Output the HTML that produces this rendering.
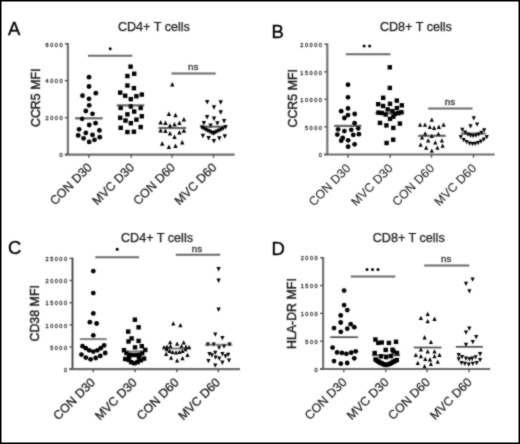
<!DOCTYPE html><html><head><meta charset="utf-8"><style>html,body{margin:0;padding:0;background:#fff;}svg{display:block;}text{font-family:"Liberation Sans", sans-serif;}</style></head><body>
<svg width="520" height="444" viewBox="0 0 520 444">
<defs><filter id="bl" x="-5%" y="-5%" width="110%" height="110%"><feConvolveMatrix order="3" kernelMatrix="1 2 1 2 12 2 1 2 1" edgeMode="duplicate"/></filter></defs>
<rect x="0" y="0" width="520" height="444" fill="#fff"/>
<g filter="url(#bl)">
<g><path d="M67.9 43.0V154.6" stroke="#737373" stroke-width="2.2" fill="none"/><path d="M64.9 154.6H234.6" stroke="#6c6c6c" stroke-width="2.2" fill="none"/><path d="M64.9 43.8H67.9" stroke="#555" stroke-width="1.4"/><text x="64.0" y="46.5" font-size="5.6" text-anchor="end" fill="#333" stroke="#333" stroke-width="0.28" letter-spacing="1.5">6000</text><path d="M64.9 80.7H67.9" stroke="#555" stroke-width="1.4"/><text x="64.0" y="83.4" font-size="5.6" text-anchor="end" fill="#333" stroke="#333" stroke-width="0.28" letter-spacing="1.5">4000</text><path d="M64.9 117.7H67.9" stroke="#555" stroke-width="1.4"/><text x="64.0" y="120.4" font-size="5.6" text-anchor="end" fill="#333" stroke="#333" stroke-width="0.28" letter-spacing="1.5">2000</text><path d="M64.9 154.6H67.9" stroke="#555" stroke-width="1.4"/><text x="64.0" y="157.3" font-size="5.6" text-anchor="end" fill="#333" stroke="#333" stroke-width="0.28" letter-spacing="1.5">0</text><path d="M88.8 154.6V157.8" stroke="#555" stroke-width="1.4"/><path d="M131.2 154.6V157.8" stroke="#555" stroke-width="1.4"/><path d="M172.1 154.6V157.8" stroke="#555" stroke-width="1.4"/><path d="M213.5 154.6V157.8" stroke="#555" stroke-width="1.4"/><text transform="translate(92.6 168.1) rotate(-45)" font-size="12.3" text-anchor="end" fill="#1c1c1c" stroke="#1c1c1c" stroke-width="0.22">CON D30</text><text transform="translate(135.0 168.1) rotate(-45)" font-size="12.3" text-anchor="end" fill="#1c1c1c" stroke="#1c1c1c" stroke-width="0.22">MVC D30</text><text transform="translate(175.9 168.1) rotate(-45)" font-size="12.3" text-anchor="end" fill="#1c1c1c" stroke="#1c1c1c" stroke-width="0.22">CON D60</text><text transform="translate(217.3 168.1) rotate(-45)" font-size="12.3" text-anchor="end" fill="#1c1c1c" stroke="#1c1c1c" stroke-width="0.22">MVC D60</text><text x="8.0" y="35.3" font-size="18.5" fill="#000" stroke="#000" stroke-width="0.35">A</text><text x="153.9" y="30.8" font-size="12.6" text-anchor="middle" fill="#1a1a1a" stroke="#1a1a1a" stroke-width="0.25">CD4+ T cells</text><text transform="translate(39.6 97.8) rotate(-90)" font-size="12.4" text-anchor="middle" fill="#1a1a1a" stroke="#1a1a1a" stroke-width="0.4">CCR5 MFI</text></g>
<g><path d="M327.3 43.4V154.5" stroke="#737373" stroke-width="2.2" fill="none"/><path d="M324.3 154.5H494.6" stroke="#6c6c6c" stroke-width="2.2" fill="none"/><path d="M324.3 44.2H327.3" stroke="#555" stroke-width="1.4"/><text x="323.4" y="46.9" font-size="5.6" text-anchor="end" fill="#333" stroke="#333" stroke-width="0.28" letter-spacing="1.5">20000</text><path d="M324.3 71.8H327.3" stroke="#555" stroke-width="1.4"/><text x="323.4" y="74.5" font-size="5.6" text-anchor="end" fill="#333" stroke="#333" stroke-width="0.28" letter-spacing="1.5">15000</text><path d="M324.3 99.3H327.3" stroke="#555" stroke-width="1.4"/><text x="323.4" y="102.0" font-size="5.6" text-anchor="end" fill="#333" stroke="#333" stroke-width="0.28" letter-spacing="1.5">10000</text><path d="M324.3 126.9H327.3" stroke="#555" stroke-width="1.4"/><text x="323.4" y="129.6" font-size="5.6" text-anchor="end" fill="#333" stroke="#333" stroke-width="0.28" letter-spacing="1.5">5000</text><path d="M324.3 154.5H327.3" stroke="#555" stroke-width="1.4"/><text x="323.4" y="157.2" font-size="5.6" text-anchor="end" fill="#333" stroke="#333" stroke-width="0.28" letter-spacing="1.5">0</text><path d="M347.9 154.5V157.7" stroke="#555" stroke-width="1.4"/><path d="M390.2 154.5V157.7" stroke="#555" stroke-width="1.4"/><path d="M431.5 154.5V157.7" stroke="#555" stroke-width="1.4"/><path d="M473.5 154.5V157.7" stroke="#555" stroke-width="1.4"/><text transform="translate(351.4 169.0) rotate(-45)" font-size="12.3" text-anchor="end" fill="#2a2a2a" stroke="#2a2a2a" stroke-width="0.1">CON D30</text><text transform="translate(393.7 169.0) rotate(-45)" font-size="12.3" text-anchor="end" fill="#2a2a2a" stroke="#2a2a2a" stroke-width="0.1">MVC D30</text><text transform="translate(435.0 169.0) rotate(-45)" font-size="12.3" text-anchor="end" fill="#2a2a2a" stroke="#2a2a2a" stroke-width="0.1">CON D60</text><text transform="translate(477.0 169.0) rotate(-45)" font-size="12.3" text-anchor="end" fill="#2a2a2a" stroke="#2a2a2a" stroke-width="0.1">MVC D60</text><text x="271.6" y="38.4" font-size="18.5" fill="#000" stroke="#000" stroke-width="0.35">B</text><text x="415.9" y="30.8" font-size="12.6" text-anchor="middle" fill="#1a1a1a" stroke="#1a1a1a" stroke-width="0.25">CD8+ T cells</text><text transform="translate(297.1 98.3) rotate(-90)" font-size="12.4" text-anchor="middle" fill="#1a1a1a" stroke="#1a1a1a" stroke-width="0.4">CCR5 MFI</text></g>
<g><path d="M72.5 257.6V369.1" stroke="#3c3c3c" stroke-width="1.8" fill="none"/><path d="M69.5 369.1H240.0" stroke="#6c6c6c" stroke-width="2.2" fill="none"/><path d="M69.5 258.4H72.5" stroke="#555" stroke-width="1.4"/><text x="68.6" y="261.1" font-size="5.6" text-anchor="end" fill="#333" stroke="#333" stroke-width="0.28" letter-spacing="1.5">25000</text><path d="M69.5 280.5H72.5" stroke="#555" stroke-width="1.4"/><text x="68.6" y="283.2" font-size="5.6" text-anchor="end" fill="#333" stroke="#333" stroke-width="0.28" letter-spacing="1.5">20000</text><path d="M69.5 302.7H72.5" stroke="#555" stroke-width="1.4"/><text x="68.6" y="305.4" font-size="5.6" text-anchor="end" fill="#333" stroke="#333" stroke-width="0.28" letter-spacing="1.5">15000</text><path d="M69.5 324.8H72.5" stroke="#555" stroke-width="1.4"/><text x="68.6" y="327.5" font-size="5.6" text-anchor="end" fill="#333" stroke="#333" stroke-width="0.28" letter-spacing="1.5">10000</text><path d="M69.5 347.0H72.5" stroke="#555" stroke-width="1.4"/><text x="68.6" y="349.7" font-size="5.6" text-anchor="end" fill="#333" stroke="#333" stroke-width="0.28" letter-spacing="1.5">5000</text><path d="M69.5 369.1H72.5" stroke="#555" stroke-width="1.4"/><text x="68.6" y="371.8" font-size="5.6" text-anchor="end" fill="#333" stroke="#333" stroke-width="0.28" letter-spacing="1.5">0</text><path d="M93.3 369.1V372.3" stroke="#555" stroke-width="1.4"/><path d="M135.0 369.1V372.3" stroke="#555" stroke-width="1.4"/><path d="M176.9 369.1V372.3" stroke="#555" stroke-width="1.4"/><path d="M218.3 369.1V372.3" stroke="#555" stroke-width="1.4"/><text transform="translate(95.9 383.1) rotate(-45)" font-size="12.3" text-anchor="end" fill="#1c1c1c" stroke="#1c1c1c" stroke-width="0.28">CON D30</text><text transform="translate(137.6 383.1) rotate(-45)" font-size="12.3" text-anchor="end" fill="#1c1c1c" stroke="#1c1c1c" stroke-width="0.28">MVC D30</text><text transform="translate(179.5 383.1) rotate(-45)" font-size="12.3" text-anchor="end" fill="#1c1c1c" stroke="#1c1c1c" stroke-width="0.28">CON D60</text><text transform="translate(220.9 383.1) rotate(-45)" font-size="12.3" text-anchor="end" fill="#1c1c1c" stroke="#1c1c1c" stroke-width="0.28">MVC D60</text><text x="8.0" y="254.0" font-size="18.5" fill="#000" stroke="#000" stroke-width="0.35">C</text><text x="157.0" y="241.9" font-size="12.6" text-anchor="middle" fill="#1a1a1a" stroke="#1a1a1a" stroke-width="0.25">CD4+ T cells</text><text transform="translate(38.9 313.3) rotate(-90)" font-size="12.4" text-anchor="middle" fill="#1a1a1a" stroke="#1a1a1a" stroke-width="0.4">CD38 MFI</text></g>
<g><path d="M323.1 256.9V369.0" stroke="#737373" stroke-width="2.2" fill="none"/><path d="M320.1 369.0H490.2" stroke="#6c6c6c" stroke-width="2.2" fill="none"/><path d="M320.1 257.7H323.1" stroke="#555" stroke-width="1.4"/><text x="319.2" y="260.4" font-size="5.6" text-anchor="end" fill="#333" stroke="#333" stroke-width="0.28" letter-spacing="1.5">2000</text><path d="M320.1 285.5H323.1" stroke="#555" stroke-width="1.4"/><text x="319.2" y="288.2" font-size="5.6" text-anchor="end" fill="#333" stroke="#333" stroke-width="0.28" letter-spacing="1.5">1500</text><path d="M320.1 313.4H323.1" stroke="#555" stroke-width="1.4"/><text x="319.2" y="316.1" font-size="5.6" text-anchor="end" fill="#333" stroke="#333" stroke-width="0.28" letter-spacing="1.5">1000</text><path d="M320.1 341.2H323.1" stroke="#555" stroke-width="1.4"/><text x="319.2" y="343.9" font-size="5.6" text-anchor="end" fill="#333" stroke="#333" stroke-width="0.28" letter-spacing="1.5">500</text><path d="M320.1 369.0H323.1" stroke="#555" stroke-width="1.4"/><text x="319.2" y="371.7" font-size="5.6" text-anchor="end" fill="#333" stroke="#333" stroke-width="0.28" letter-spacing="1.5">0</text><path d="M343.8 369.0V372.2" stroke="#555" stroke-width="1.4"/><path d="M385.8 369.0V372.2" stroke="#555" stroke-width="1.4"/><path d="M427.1 369.0V372.2" stroke="#555" stroke-width="1.4"/><path d="M469.0 369.0V372.2" stroke="#555" stroke-width="1.4"/><text transform="translate(347.5 382.9) rotate(-45)" font-size="12.3" text-anchor="end" fill="#222" stroke="#222" stroke-width="0.2">CON D30</text><text transform="translate(389.5 382.9) rotate(-45)" font-size="12.3" text-anchor="end" fill="#222" stroke="#222" stroke-width="0.2">MVC D30</text><text transform="translate(430.8 382.9) rotate(-45)" font-size="12.3" text-anchor="end" fill="#222" stroke="#222" stroke-width="0.2">CON D60</text><text transform="translate(472.7 382.9) rotate(-45)" font-size="12.3" text-anchor="end" fill="#222" stroke="#222" stroke-width="0.2">MVC D60</text><text x="271.6" y="254.7" font-size="18.5" fill="#000" stroke="#000" stroke-width="0.35">D</text><text x="408.7" y="241.9" font-size="12.6" text-anchor="middle" fill="#1a1a1a" stroke="#1a1a1a" stroke-width="0.25">CD8+ T cells</text><text transform="translate(296.3 313.6) rotate(-90)" font-size="12.4" text-anchor="middle" fill="#1a1a1a" stroke="#1a1a1a" stroke-width="0.4">HLA-DR MFI</text></g>
<g><path d="M75.1 118.3H102.7" stroke="#666" stroke-width="2.2"/><path d="M116.8 105.4H144.3" stroke="#666" stroke-width="2.2"/><path d="M158.6 128.0H186.0" stroke="#666" stroke-width="2.2"/><path d="M200.5 126.7H227.0" stroke="#666" stroke-width="2.2"/><path d="M334.1 125.9H361.4" stroke="#666" stroke-width="2.2"/><path d="M375.5 113.3H404.0" stroke="#666" stroke-width="2.2"/><path d="M418.1 135.8H445.7" stroke="#666" stroke-width="2.2"/><path d="M461.0 133.6H485.5" stroke="#666" stroke-width="2.2"/><path d="M79.8 339.1H106.8" stroke="#808080" stroke-width="2.0"/><path d="M123.2 351.4H146.8" stroke="#808080" stroke-width="2.0"/><path d="M163.0 348.5H190.0" stroke="#808080" stroke-width="2.0"/><path d="M205.0 344.8H232.3" stroke="#808080" stroke-width="2.0"/><path d="M330.3 337.2H357.9" stroke="#4e4e4e" stroke-width="1.7"/><path d="M372.0 355.3H400.0" stroke="#4e4e4e" stroke-width="1.7"/><path d="M413.8 347.5H441.5" stroke="#4e4e4e" stroke-width="1.7"/><path d="M455.9 346.8H482.9" stroke="#4e4e4e" stroke-width="1.7"/></g>
<g fill="#000"><circle cx="89.0" cy="77.2" r="2.4"/><circle cx="89.0" cy="86.5" r="2.4"/><circle cx="95.8" cy="93.2" r="2.4"/><circle cx="82.5" cy="95.7" r="2.4"/><circle cx="89.0" cy="98.8" r="2.4"/><circle cx="89.2" cy="105.3" r="2.4"/><circle cx="85.8" cy="111.0" r="2.4"/><circle cx="92.5" cy="113.8" r="2.4"/><circle cx="82.1" cy="118.8" r="2.4"/><circle cx="95.6" cy="123.2" r="2.4"/><circle cx="89.2" cy="125.0" r="2.4"/><circle cx="79.1" cy="129.3" r="2.4"/><circle cx="99.4" cy="130.4" r="2.4"/><circle cx="85.8" cy="132.9" r="2.4"/><circle cx="92.5" cy="134.9" r="2.4"/><circle cx="78.2" cy="135.4" r="2.4"/><circle cx="83.6" cy="138.3" r="2.4"/><circle cx="99.8" cy="137.2" r="2.4"/><circle cx="94.5" cy="139.8" r="2.4"/><circle cx="89.2" cy="141.9" r="2.4"/></g>
<g fill="#000"><rect x="128.40" y="64.45" width="4.4" height="4.4"/><rect x="132.00" y="71.55" width="4.4" height="4.4"/><rect x="125.20" y="73.85" width="4.4" height="4.4"/><rect x="125.20" y="83.35" width="4.4" height="4.4"/><rect x="131.70" y="85.95" width="4.4" height="4.4"/><rect x="118.00" y="90.45" width="4.4" height="4.4"/><rect x="123.00" y="93.55" width="4.4" height="4.4"/><rect x="139.60" y="92.35" width="4.4" height="4.4"/><rect x="134.20" y="94.05" width="4.4" height="4.4"/><rect x="128.60" y="96.95" width="4.4" height="4.4"/><rect x="118.50" y="105.75" width="4.4" height="4.4"/><rect x="128.60" y="104.25" width="4.4" height="4.4"/><rect x="138.50" y="105.75" width="4.4" height="4.4"/><rect x="132.00" y="109.35" width="4.4" height="4.4"/><rect x="125.20" y="112.15" width="4.4" height="4.4"/><rect x="118.00" y="115.55" width="4.4" height="4.4"/><rect x="139.60" y="114.05" width="4.4" height="4.4"/><rect x="123.30" y="118.35" width="4.4" height="4.4"/><rect x="134.20" y="117.45" width="4.4" height="4.4"/><rect x="128.60" y="120.95" width="4.4" height="4.4"/><rect x="118.50" y="125.65" width="4.4" height="4.4"/><rect x="138.50" y="124.85" width="4.4" height="4.4"/><rect x="125.20" y="129.85" width="4.4" height="4.4"/><rect x="131.70" y="129.55" width="4.4" height="4.4"/></g>
<g fill="#000"><path d="M172.30 81.90L174.50 86.40L170.10 86.40Z"/><path d="M168.90 111.40L171.10 115.90L166.70 115.90Z"/><path d="M175.50 112.70L177.70 117.20L173.30 117.20Z"/><path d="M183.90 116.90L186.10 121.40L181.70 121.40Z"/><path d="M160.60 120.00L162.80 124.50L158.40 124.50Z"/><path d="M165.40 120.50L167.60 125.00L163.20 125.00Z"/><path d="M174.50 122.00L176.70 126.50L172.30 126.50Z"/><path d="M179.40 120.50L181.60 125.00L177.20 125.00Z"/><path d="M170.00 123.30L172.20 127.80L167.80 127.80Z"/><path d="M160.60 128.10L162.80 132.60L158.40 132.60Z"/><path d="M165.40 128.60L167.60 133.10L163.20 133.10Z"/><path d="M183.90 128.30L186.10 132.80L181.70 132.80Z"/><path d="M170.00 131.10L172.20 135.60L167.80 135.60Z"/><path d="M179.40 130.10L181.60 134.60L177.20 134.60Z"/><path d="M174.50 134.50L176.70 139.00L172.30 139.00Z"/><path d="M162.20 141.20L164.40 145.70L160.00 145.70Z"/><path d="M182.20 139.90L184.40 144.40L180.00 144.40Z"/><path d="M168.90 144.60L171.10 149.10L166.70 149.10Z"/><path d="M175.50 143.60L177.70 148.10L173.30 148.10Z"/></g>
<g fill="#000"><path d="M207.20 104.40L209.40 99.90L205.00 99.90Z"/><path d="M220.70 104.70L222.90 100.20L218.50 100.20Z"/><path d="M214.00 109.70L216.20 105.20L211.80 105.20Z"/><path d="M220.70 114.80L222.90 110.30L218.50 110.30Z"/><path d="M207.10 119.60L209.30 115.10L204.90 115.10Z"/><path d="M214.00 121.00L216.20 116.50L211.80 116.50Z"/><path d="M224.10 123.60L226.30 119.10L221.90 119.10Z"/><path d="M203.90 125.60L206.10 121.10L201.70 121.10Z"/><path d="M217.40 125.80L219.60 121.30L215.20 121.30Z"/><path d="M210.60 128.10L212.80 123.60L208.40 123.60Z"/><path d="M202.00 130.10L204.20 125.60L199.80 125.60Z"/><path d="M204.00 131.10L206.20 126.60L201.80 126.60Z"/><path d="M206.00 132.20L208.20 127.70L203.80 127.70Z"/><path d="M208.00 133.20L210.20 128.70L205.80 128.70Z"/><path d="M210.00 134.20L212.20 129.70L207.80 129.70Z"/><path d="M212.00 135.20L214.20 130.70L209.80 130.70Z"/><path d="M213.50 135.80L215.70 131.30L211.30 131.30Z"/><path d="M215.00 135.00L217.20 130.50L212.80 130.50Z"/><path d="M217.00 134.00L219.20 129.50L214.80 129.50Z"/><path d="M219.00 132.90L221.20 128.40L216.80 128.40Z"/><path d="M221.00 131.90L223.20 127.40L218.80 127.40Z"/><path d="M223.00 130.90L225.20 126.40L220.80 126.40Z"/><path d="M225.50 129.60L227.70 125.10L223.30 125.10Z"/><path d="M202.90 138.20L205.10 133.70L200.70 133.70Z"/><path d="M208.60 140.40L210.80 135.90L206.40 135.90Z"/><path d="M213.90 143.60L216.10 139.10L211.70 139.10Z"/><path d="M219.30 140.70L221.50 136.20L217.10 136.20Z"/><path d="M224.80 138.80L227.00 134.30L222.60 134.30Z"/></g>
<g fill="#000"><circle cx="348.0" cy="84.7" r="2.4"/><circle cx="348.0" cy="97.3" r="2.4"/><circle cx="348.0" cy="108.4" r="2.4"/><circle cx="341.2" cy="111.2" r="2.4"/><circle cx="354.7" cy="114.0" r="2.4"/><circle cx="348.0" cy="115.1" r="2.4"/><circle cx="344.4" cy="118.0" r="2.4"/><circle cx="354.6" cy="123.2" r="2.4"/><circle cx="338.1" cy="129.3" r="2.4"/><circle cx="344.4" cy="131.1" r="2.4"/><circle cx="351.3" cy="129.8" r="2.4"/><circle cx="358.2" cy="128.3" r="2.4"/><circle cx="337.3" cy="134.6" r="2.4"/><circle cx="353.3" cy="134.9" r="2.4"/><circle cx="358.9" cy="134.2" r="2.4"/><circle cx="342.7" cy="137.9" r="2.4"/><circle cx="341.2" cy="140.7" r="2.4"/><circle cx="348.1" cy="140.3" r="2.4"/><circle cx="354.6" cy="144.3" r="2.4"/><circle cx="348.1" cy="146.7" r="2.4"/></g>
<g fill="#000"><rect x="387.60" y="65.10" width="4.4" height="4.4"/><rect x="387.60" y="85.70" width="4.4" height="4.4"/><rect x="381.00" y="95.60" width="4.4" height="4.4"/><rect x="394.60" y="98.40" width="4.4" height="4.4"/><rect x="376.00" y="102.00" width="4.4" height="4.4"/><rect x="387.80" y="101.60" width="4.4" height="4.4"/><rect x="380.90" y="103.80" width="4.4" height="4.4"/><rect x="399.60" y="103.10" width="4.4" height="4.4"/><rect x="394.70" y="105.90" width="4.4" height="4.4"/><rect x="385.50" y="107.20" width="4.4" height="4.4"/><rect x="390.20" y="108.90" width="4.4" height="4.4"/><rect x="376.20" y="110.40" width="4.4" height="4.4"/><rect x="379.70" y="110.80" width="4.4" height="4.4"/><rect x="383.50" y="112.30" width="4.4" height="4.4"/><rect x="392.70" y="111.70" width="4.4" height="4.4"/><rect x="396.10" y="111.00" width="4.4" height="4.4"/><rect x="399.20" y="110.00" width="4.4" height="4.4"/><rect x="387.80" y="116.70" width="4.4" height="4.4"/><rect x="391.10" y="114.50" width="4.4" height="4.4"/><rect x="377.80" y="120.70" width="4.4" height="4.4"/><rect x="384.20" y="123.20" width="4.4" height="4.4"/><rect x="391.10" y="125.70" width="4.4" height="4.4"/><rect x="397.70" y="121.40" width="4.4" height="4.4"/><rect x="391.00" y="137.50" width="4.4" height="4.4"/><rect x="384.40" y="140.80" width="4.4" height="4.4"/></g>
<g fill="#000"><path d="M431.80 117.52L433.90 121.82L429.70 121.82Z"/><path d="M420.10 122.42L422.20 126.72L418.00 126.72Z"/><path d="M425.00 122.42L427.10 126.72L422.90 126.72Z"/><path d="M443.60 122.42L445.70 126.72L441.50 126.72Z"/><path d="M429.80 124.82L431.90 129.12L427.70 129.12Z"/><path d="M434.10 125.62L436.20 129.92L432.00 129.92Z"/><path d="M438.90 124.62L441.00 128.92L436.80 128.92Z"/><path d="M425.20 131.22L427.30 135.52L423.10 135.52Z"/><path d="M438.40 131.72L440.50 136.02L436.30 136.02Z"/><path d="M422.00 135.32L424.10 139.62L419.90 139.62Z"/><path d="M431.80 133.72L433.90 138.02L429.70 138.02Z"/><path d="M428.20 138.32L430.30 142.62L426.10 142.62Z"/><path d="M435.30 140.32L437.40 144.62L433.20 144.62Z"/><path d="M441.90 138.32L444.00 142.62L439.80 142.62Z"/><path d="M420.60 142.42L422.70 146.72L418.50 146.72Z"/><path d="M426.20 145.42L428.30 149.72L424.10 149.72Z"/><path d="M437.40 145.42L439.50 149.72L435.30 149.72Z"/><path d="M442.60 143.42L444.70 147.72L440.50 147.72Z"/><path d="M431.80 148.42L433.90 152.72L429.70 152.72Z"/></g>
<g fill="#000"><path d="M473.80 120.48L475.90 116.18L471.70 116.18Z"/><path d="M477.10 126.78L479.20 122.48L475.00 122.48Z"/><path d="M470.50 128.58L472.60 124.28L468.40 124.28Z"/><path d="M462.30 132.08L464.40 127.78L460.20 127.78Z"/><path d="M465.00 134.88L467.10 130.58L462.90 130.58Z"/><path d="M467.80 136.78L469.90 132.48L465.70 132.48Z"/><path d="M470.50 137.88L472.60 133.58L468.40 133.58Z"/><path d="M473.20 138.18L475.30 133.88L471.10 133.88Z"/><path d="M476.00 137.78L478.10 133.48L473.90 133.48Z"/><path d="M478.70 136.68L480.80 132.38L476.60 132.38Z"/><path d="M481.50 134.98L483.60 130.68L479.40 130.68Z"/><path d="M484.20 132.58L486.30 128.28L482.10 128.28Z"/><path d="M460.80 139.18L462.90 134.88L458.70 134.88Z"/><path d="M463.70 142.18L465.80 137.88L461.60 137.88Z"/><path d="M466.60 144.28L468.70 139.98L464.50 139.98Z"/><path d="M469.50 145.68L471.60 141.38L467.40 141.38Z"/><path d="M472.40 146.18L474.50 141.88L470.30 141.88Z"/><path d="M475.20 145.98L477.30 141.68L473.10 141.68Z"/><path d="M478.10 145.18L480.20 140.88L476.00 140.88Z"/><path d="M481.00 143.78L483.10 139.48L478.90 139.48Z"/><path d="M483.90 141.78L486.00 137.48L481.80 137.48Z"/><path d="M486.80 139.18L488.90 134.88L484.70 134.88Z"/></g>
<g fill="#000"><circle cx="93.3" cy="271.1" r="2.4"/><circle cx="93.3" cy="293.1" r="2.4"/><circle cx="93.3" cy="313.4" r="2.4"/><circle cx="89.9" cy="322.2" r="2.4"/><circle cx="96.6" cy="323.5" r="2.4"/><circle cx="93.3" cy="335.4" r="2.4"/><circle cx="82.5" cy="346.2" r="2.4"/><circle cx="85.8" cy="348.2" r="2.4"/><circle cx="89.2" cy="350.3" r="2.4"/><circle cx="93.3" cy="351.6" r="2.4"/><circle cx="97.3" cy="350.3" r="2.4"/><circle cx="100.7" cy="348.2" r="2.4"/><circle cx="104.1" cy="345.4" r="2.4"/><circle cx="81.4" cy="354.6" r="2.4"/><circle cx="85.8" cy="357.6" r="2.4"/><circle cx="90.6" cy="359.3" r="2.4"/><circle cx="95.7" cy="358.0" r="2.4"/><circle cx="100.3" cy="355.9" r="2.4"/><circle cx="105.2" cy="353.0" r="2.4"/></g>
<g fill="#000"><rect x="132.70" y="317.50" width="4.4" height="4.4"/><rect x="136.40" y="325.10" width="4.4" height="4.4"/><rect x="126.00" y="329.40" width="4.4" height="4.4"/><rect x="129.40" y="336.20" width="4.4" height="4.4"/><rect x="126.30" y="339.30" width="4.4" height="4.4"/><rect x="136.40" y="338.70" width="4.4" height="4.4"/><rect x="132.80" y="345.20" width="4.4" height="4.4"/><rect x="139.60" y="344.00" width="4.4" height="4.4"/><rect x="121.80" y="348.00" width="4.4" height="4.4"/><rect x="143.10" y="347.70" width="4.4" height="4.4"/><rect x="124.30" y="350.90" width="4.4" height="4.4"/><rect x="127.20" y="352.50" width="4.4" height="4.4"/><rect x="130.50" y="352.80" width="4.4" height="4.4"/><rect x="134.10" y="352.80" width="4.4" height="4.4"/><rect x="137.40" y="352.50" width="4.4" height="4.4"/><rect x="140.00" y="350.90" width="4.4" height="4.4"/><rect x="123.00" y="356.80" width="4.4" height="4.4"/><rect x="126.30" y="357.70" width="4.4" height="4.4"/><rect x="128.90" y="360.00" width="4.4" height="4.4"/><rect x="132.10" y="361.00" width="4.4" height="4.4"/><rect x="135.40" y="360.00" width="4.4" height="4.4"/><rect x="138.70" y="358.10" width="4.4" height="4.4"/><rect x="141.90" y="356.40" width="4.4" height="4.4"/><rect x="126.90" y="355.10" width="4.4" height="4.4"/><rect x="136.70" y="355.40" width="4.4" height="4.4"/></g>
<g fill="#000"><path d="M173.30 321.32L175.40 325.62L171.20 325.62Z"/><path d="M180.40 322.92L182.50 327.22L178.30 327.22Z"/><path d="M170.10 339.92L172.20 344.22L168.00 344.22Z"/><path d="M177.10 341.52L179.20 345.82L175.00 345.82Z"/><path d="M183.70 340.32L185.80 344.62L181.60 344.62Z"/><path d="M164.00 345.02L166.10 349.32L161.90 349.32Z"/><path d="M167.00 344.42L169.10 348.72L164.90 348.72Z"/><path d="M170.50 344.02L172.60 348.32L168.40 348.32Z"/><path d="M181.50 344.02L183.60 348.32L179.40 348.32Z"/><path d="M186.00 344.42L188.10 348.72L183.90 348.72Z"/><path d="M189.20 345.02L191.30 349.32L187.10 349.32Z"/><path d="M166.80 347.02L168.90 351.32L164.70 351.32Z"/><path d="M169.60 348.62L171.70 352.92L167.50 352.92Z"/><path d="M172.60 349.72L174.70 354.02L170.50 354.02Z"/><path d="M176.00 350.12L178.10 354.42L173.90 354.42Z"/><path d="M179.40 349.72L181.50 354.02L177.30 354.02Z"/><path d="M182.40 348.62L184.50 352.92L180.30 352.92Z"/><path d="M185.40 347.02L187.50 351.32L183.30 351.32Z"/><path d="M166.20 351.82L168.30 356.12L164.10 356.12Z"/><path d="M171.10 355.52L173.20 359.82L169.00 359.82Z"/><path d="M177.10 358.22L179.20 362.52L175.00 362.52Z"/><path d="M182.50 356.02L184.60 360.32L180.40 360.32Z"/><path d="M187.50 352.72L189.60 357.02L185.40 357.02Z"/></g>
<g fill="#000"><path d="M218.60 271.38L220.70 267.08L216.50 267.08Z"/><path d="M218.60 282.88L220.70 278.58L216.50 278.58Z"/><path d="M218.60 311.88L220.70 307.58L216.50 307.58Z"/><path d="M215.30 336.78L217.40 332.48L213.20 332.48Z"/><path d="M222.40 340.18L224.50 335.88L220.30 335.88Z"/><path d="M207.90 346.68L210.00 342.38L205.80 342.38Z"/><path d="M213.70 346.68L215.80 342.38L211.60 342.38Z"/><path d="M219.10 350.08L221.20 345.78L217.00 345.78Z"/><path d="M224.00 348.78L226.10 344.48L221.90 344.48Z"/><path d="M229.50 346.68L231.60 342.38L227.40 342.38Z"/><path d="M209.40 356.28L211.50 351.98L207.30 351.98Z"/><path d="M215.30 354.98L217.40 350.68L213.20 350.68Z"/><path d="M222.40 356.28L224.50 351.98L220.30 351.98Z"/><path d="M228.20 356.98L230.30 352.68L226.10 352.68Z"/><path d="M211.90 357.48L214.00 353.18L209.80 353.18Z"/><path d="M215.60 359.68L217.70 355.38L213.50 355.38Z"/><path d="M219.30 360.68L221.40 356.38L217.20 356.38Z"/><path d="M225.50 358.48L227.60 354.18L223.40 354.18Z"/><path d="M208.40 363.18L210.50 358.88L206.30 358.88Z"/><path d="M222.40 364.88L224.50 360.58L220.30 360.58Z"/><path d="M229.00 362.78L231.10 358.48L226.90 358.48Z"/><path d="M215.30 367.78L217.40 363.48L213.20 363.48Z"/></g>
<g fill="#000"><circle cx="344.1" cy="290.6" r="2.4"/><circle cx="344.1" cy="305.1" r="2.4"/><circle cx="347.3" cy="310.1" r="2.4"/><circle cx="340.7" cy="315.4" r="2.4"/><circle cx="340.7" cy="322.5" r="2.4"/><circle cx="350.7" cy="324.2" r="2.4"/><circle cx="354.3" cy="327.2" r="2.4"/><circle cx="334.0" cy="328.1" r="2.4"/><circle cx="347.3" cy="328.7" r="2.4"/><circle cx="340.8" cy="331.8" r="2.4"/><circle cx="332.6" cy="347.6" r="2.4"/><circle cx="337.1" cy="352.4" r="2.4"/><circle cx="341.9" cy="352.9" r="2.4"/><circle cx="346.4" cy="353.8" r="2.4"/><circle cx="351.2" cy="352.7" r="2.4"/><circle cx="355.7" cy="351.3" r="2.4"/><circle cx="354.3" cy="358.3" r="2.4"/><circle cx="334.0" cy="361.1" r="2.4"/><circle cx="340.8" cy="363.7" r="2.4"/><circle cx="347.2" cy="363.0" r="2.4"/></g>
<g fill="#000"><rect x="373.20" y="337.30" width="4.4" height="4.4"/><rect x="376.10" y="340.70" width="4.4" height="4.4"/><rect x="379.60" y="340.30" width="4.4" height="4.4"/><rect x="386.70" y="340.70" width="4.4" height="4.4"/><rect x="393.80" y="339.60" width="4.4" height="4.4"/><rect x="383.50" y="347.70" width="4.4" height="4.4"/><rect x="390.30" y="347.50" width="4.4" height="4.4"/><rect x="372.50" y="350.80" width="4.4" height="4.4"/><rect x="394.80" y="350.80" width="4.4" height="4.4"/><rect x="391.40" y="349.30" width="4.4" height="4.4"/><rect x="378.80" y="354.10" width="4.4" height="4.4"/><rect x="384.00" y="354.90" width="4.4" height="4.4"/><rect x="388.70" y="353.90" width="4.4" height="4.4"/><rect x="373.30" y="357.20" width="4.4" height="4.4"/><rect x="376.50" y="359.60" width="4.4" height="4.4"/><rect x="379.60" y="361.20" width="4.4" height="4.4"/><rect x="383.60" y="362.80" width="4.4" height="4.4"/><rect x="387.50" y="361.60" width="4.4" height="4.4"/><rect x="391.00" y="359.60" width="4.4" height="4.4"/><rect x="394.60" y="357.80" width="4.4" height="4.4"/><rect x="374.80" y="358.40" width="4.4" height="4.4"/><rect x="378.00" y="360.40" width="4.4" height="4.4"/><rect x="381.50" y="362.10" width="4.4" height="4.4"/><rect x="385.60" y="362.30" width="4.4" height="4.4"/><rect x="389.30" y="360.70" width="4.4" height="4.4"/><rect x="392.80" y="358.80" width="4.4" height="4.4"/></g>
<g fill="#000"><path d="M427.70 311.72L429.80 316.02L425.60 316.02Z"/><path d="M420.90 315.82L423.00 320.12L418.80 320.12Z"/><path d="M434.50 316.62L436.60 320.92L432.40 320.92Z"/><path d="M427.70 318.92L429.80 323.22L425.60 323.22Z"/><path d="M424.60 335.12L426.70 339.42L422.50 339.42Z"/><path d="M430.90 339.82L433.00 344.12L428.80 344.12Z"/><path d="M420.90 347.32L423.00 351.62L418.80 351.62Z"/><path d="M427.70 349.32L429.80 353.62L425.60 353.62Z"/><path d="M434.50 349.32L436.60 353.62L432.40 353.62Z"/><path d="M415.80 352.72L417.90 357.02L413.70 357.02Z"/><path d="M439.50 352.72L441.60 357.02L437.40 357.02Z"/><path d="M420.90 354.02L423.00 358.32L418.80 358.32Z"/><path d="M434.50 354.02L436.60 358.32L432.40 358.32Z"/><path d="M425.30 356.72L427.40 361.02L423.20 361.02Z"/><path d="M430.00 357.12L432.10 361.42L427.90 361.42Z"/><path d="M437.70 359.42L439.80 363.72L435.60 363.72Z"/><path d="M417.80 360.82L419.90 365.12L415.70 365.12Z"/><path d="M430.90 361.72L433.00 366.02L428.80 366.02Z"/><path d="M424.60 363.92L426.70 368.22L422.50 368.22Z"/></g>
<g fill="#000"><path d="M472.60 281.78L474.70 277.48L470.50 277.48Z"/><path d="M466.00 286.08L468.10 281.78L463.90 281.78Z"/><path d="M469.40 293.48L471.50 289.18L467.30 289.18Z"/><path d="M469.30 330.68L471.40 326.38L467.20 326.38Z"/><path d="M466.00 334.78L468.10 330.48L463.90 330.48Z"/><path d="M476.20 339.28L478.30 334.98L474.10 334.98Z"/><path d="M472.80 344.18L474.90 339.88L470.70 339.88Z"/><path d="M466.00 347.08L468.10 342.78L463.90 342.78Z"/><path d="M458.70 357.28L460.80 352.98L456.60 352.98Z"/><path d="M480.10 356.38L482.20 352.08L478.00 352.08Z"/><path d="M462.10 359.18L464.20 354.88L460.00 354.88Z"/><path d="M466.00 360.88L468.10 356.58L463.90 356.58Z"/><path d="M469.40 361.48L471.50 357.18L467.30 357.18Z"/><path d="M472.20 360.88L474.30 356.58L470.10 356.58Z"/><path d="M475.60 359.48L477.70 355.18L473.50 355.18Z"/><path d="M458.70 361.48L460.80 357.18L456.60 357.18Z"/><path d="M480.10 362.18L482.20 357.88L478.00 357.88Z"/><path d="M461.50 365.18L463.60 360.88L459.40 360.88Z"/><path d="M464.90 365.98L467.00 361.68L462.80 361.68Z"/><path d="M468.80 366.68L470.90 362.38L466.70 362.38Z"/><path d="M472.80 365.98L474.90 361.68L470.70 361.68Z"/><path d="M476.70 365.18L478.80 360.88L474.60 360.88Z"/></g>
<g><path d="M88.0 55.8H132.4" stroke="#6a6a6a" stroke-width="2.0"/><circle cx="110.2" cy="48.7" r="1.5" fill="#000"/><path d="M171.5 73.5H215.7" stroke="#6a6a6a" stroke-width="2.0"/><text x="193.2" y="69.8" font-size="9.8" text-anchor="middle" fill="#333" stroke="#333" stroke-width="0.3">ns</text><path d="M345.8 54.2H390.4" stroke="#6a6a6a" stroke-width="2.0"/><circle cx="364.1" cy="45.9" r="1.5" fill="#000"/><circle cx="369.6" cy="45.9" r="1.5" fill="#000"/><path d="M428.1 108.5H472.5" stroke="#6a6a6a" stroke-width="2.0"/><text x="450.0" y="105.1" font-size="9.8" text-anchor="middle" fill="#333" stroke="#333" stroke-width="0.3">ns</text><path d="M95.3 257.3H139.0" stroke="#6a6a6a" stroke-width="2.0"/><circle cx="117.2" cy="249.3" r="1.5" fill="#000"/><path d="M175.8 254.7H220.2" stroke="#6a6a6a" stroke-width="2.0"/><text x="197.0" y="251.9" font-size="9.8" text-anchor="middle" fill="#333" stroke="#333" stroke-width="0.3">ns</text><path d="M350.9 276.4H395.3" stroke="#6a6a6a" stroke-width="2.0"/><circle cx="367.0" cy="269.5" r="1.5" fill="#000"/><circle cx="372.5" cy="269.5" r="1.5" fill="#000"/><circle cx="378.0" cy="269.5" r="1.5" fill="#000"/><path d="M424.2 265.6H469.2" stroke="#6a6a6a" stroke-width="2.0"/><text x="446.2" y="261.9" font-size="9.8" text-anchor="middle" fill="#333" stroke="#333" stroke-width="0.3">ns</text></g>
</g>
<rect x="0.75" y="0.75" width="518.5" height="442.5" fill="none" stroke="#000" stroke-width="1.5"/>
</svg></body></html>
